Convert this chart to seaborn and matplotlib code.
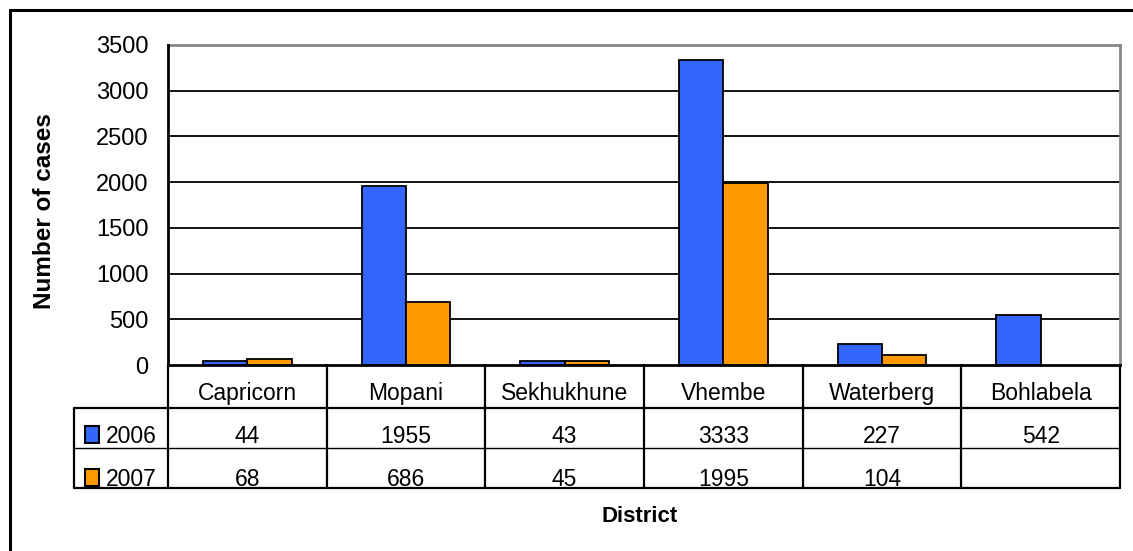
import matplotlib
matplotlib.use("Agg")
import matplotlib.pyplot as plt
import matplotlib.transforms as mtransforms
from matplotlib.lines import Line2D
from matplotlib.patches import Rectangle
import numpy as np
import pandas as pd
import seaborn as sns

# ---- data ----
districts = ["Capricorn", "Mopani", "Sekhukhune", "Vhembe", "Waterberg", "Bohlabela"]
years = ["2006", "2007"]
cases_2006 = [44, 1955, 43, 3333, 227, 542]
cases_2007 = [68, 686, 45, 1995, 104, None]
colors = ["#3366FF", "#FF9900"]
y_ticks = [0, 500, 1000, 1500, 2000, 2500, 3000, 3500]

rows = []
for d, a, b in zip(districts, cases_2006, cases_2007):
    rows.append({"District": d, "Year": "2006", "Cases": a})
    if b is not None:
        rows.append({"District": d, "Year": "2007", "Cases": b})
df = pd.DataFrame(rows)

sns.set_style("white")
plt.rcParams['font.family'] = ['Liberation Sans', 'DejaVu Sans']
plt.rcParams['text.color'] = 'black'
plt.rcParams['ytick.color'] = 'black'
plt.rcParams['axes.labelcolor'] = 'black'

W, H = 1133, 551
fig = plt.figure(figsize=(W / 100, H / 100), dpi=100)

def fx(px):
    return px / W

def fy(py):
    return 1 - py / H

left, right, top, bottom = 168, 1120, 45, 365
ax = fig.add_axes([fx(left), fy(bottom), fx(right - left), (bottom - top) / H])

sns.barplot(data=df, x="District", y="Cases", hue="Year", order=districts,
            hue_order=years, palette=colors, width=0.56, errorbar=None,
            edgecolor="black", linewidth=1.3, saturation=1, ax=ax, zorder=3)
if ax.get_legend() is not None:
    ax.get_legend().remove()

ax.set_xlim(-0.5, len(districts) - 0.5)
ax.set_ylim(0, 3500)
ax.set_yticks(y_ticks)
ax.set_yticklabels([str(t) for t in y_ticks], fontsize=17, color="black")
ax.set_xticks([])
ax.set_xlabel("")
ax.set_ylabel("")
ax.tick_params(axis="y", direction="out", length=6, width=1.5, color="black", pad=8)
for t in y_ticks[1:-1]:
    ax.axhline(t, color="black", linewidth=1.3, zorder=1)
for s in ["top", "right"]:
    ax.spines[s].set_color("#888888")
    ax.spines[s].set_linewidth(2)
for s in ["left", "bottom"]:
    ax.spines[s].set_color("black")
    ax.spines[s].set_linewidth(2)
    ax.spines[s].set_zorder(5)

# ---- data table below the axes ----
tr = mtransforms.blended_transform_factory(ax.transData, fig.transFigure)
col_w = (right - left) / len(districts)
x_tab_left = -0.5 - (left - 74) / col_w
x_end = len(districts) - 0.5
y_cat, y_r1, y_r2 = 408, 448, 488

def hline(x0, x1, py, lw):
    fig.add_artist(Line2D([x0, x1], [fy(py), fy(py)], transform=tr, color="black",
                          linewidth=lw, clip_on=False))

def vline(x, py0, py1, lw):
    fig.add_artist(Line2D([x, x], [fy(py0), fy(py1)], transform=tr, color="black",
                          linewidth=lw, clip_on=False))

hline(x_tab_left, x_end, y_cat, 1.6)
hline(x_tab_left, x_end, y_r1, 1.0)
hline(x_tab_left, x_end, y_r2, 1.6)
vline(x_tab_left, y_cat, y_r2, 1.6)
for i in range(len(districts) + 1):
    vline(i - 0.5, bottom, y_r2, 1.6)

for i, d in enumerate(districts):
    fig.text(i, fy(400), d, transform=tr, fontsize=16.5, ha="center", va="baseline",
             color="black")

series = [cases_2006, cases_2007]
baselines = [443, 486]
for vals, base, col, yr in zip(series, baselines, colors, years):
    for i, v in enumerate(vals):
        if v is None:
            continue
        fig.text(i, fy(base), str(v), transform=tr, fontsize=16.5,
                 ha="center", va="baseline", color="black")
    # legend key
    fig.add_artist(Rectangle((fx(85), fy(base)), fx(14), 17 / H, transform=fig.transFigure,
                             facecolor=col, edgecolor="black", linewidth=1.5))
    fig.text(fx(106), fy(base), yr, fontsize=16.5, ha="left", va="baseline", color="black")

# axis titles
fig.text(fx(45), fy(211), "Number of cases", rotation=90, fontsize=17.5,
         fontweight="bold", ha="center", va="center", color="black")
fig.text(fx(640), fy(517), "District", fontsize=16, fontweight="bold",
         ha="center", va="center", color="black")

# outer frame (top and left edges visible)
fig.add_artist(Line2D([fx(10), 1.0], [fy(10), fy(10)], transform=fig.transFigure,
                      color="black", linewidth=2.2))
fig.add_artist(Line2D([fx(10), fx(10)], [fy(10), 0.0], transform=fig.transFigure,
                      color="black", linewidth=2.2))

fig.savefig("out.png", dpi=100, facecolor="white")
